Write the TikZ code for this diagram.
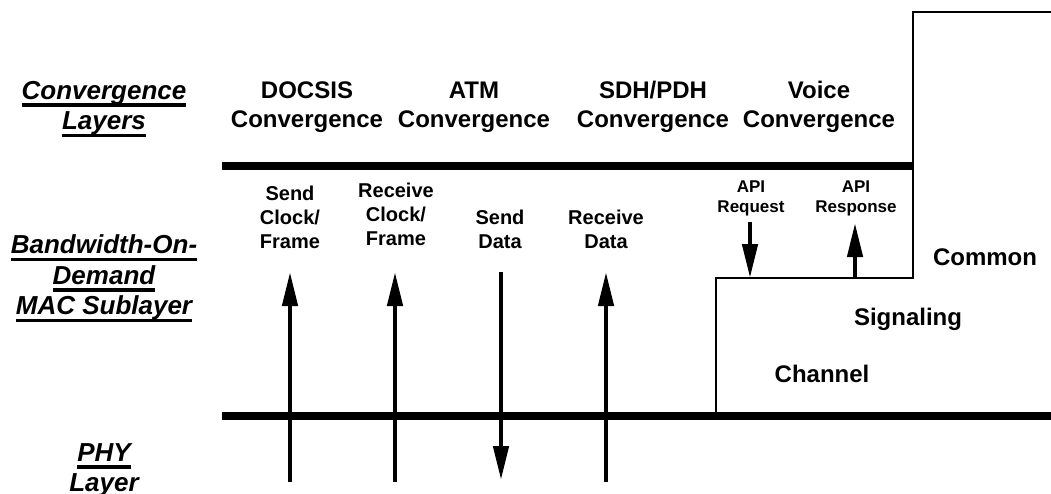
\documentclass[tikz,border=0pt]{standalone}
\usepackage{fontspec}
\setmainfont{Liberation Sans}
\usepackage{tikz}
\usetikzlibrary{arrows.meta}

\newsavebox\ulbox
\newcommand\ulline[1]{\sbox\ulbox{#1}\rlap{\rule[-7.5pt]{\wd\ulbox}{3.5pt}}\usebox\ulbox}

\begin{document}
\begin{tikzpicture}[x=1pt,y=-1pt,
	every node/.style={inner sep=0pt, align=center, anchor=base},
	layer/.style={font=\fontsize{26}{30.5}\selectfont\bfseries\itshape},
	conv/.style={font=\fontsize{24}{29}\selectfont\bfseries},
	sig/.style={font=\fontsize{20}{24}\selectfont\bfseries},
	api/.style={font=\fontsize{17}{19.5}\selectfont\bfseries},
	bar/.style={line width=8pt},
	thin/.style={line width=2pt},
	flow/.style={line width=4.5pt, -{Triangle[length=34pt,width=15pt]}}]
	\useasboundingbox (0,0) rectangle (1051,493);
	\clip (0,0) rectangle (1051,493);

	% layer names on the left (base = last line)
	\node[layer] (conv-layer) at (104,129.5) {\ulline{Convergence}\\\ulline{Layers}};
	\node[layer] (mac-layer) at (104,314.5) {\ulline{Bandwidth-On-}\\\ulline{Demand}\\\ulline{MAC Sublayer}};
	\node[layer] (phy-layer) at (104,491.5) {\ulline{PHY}\\\ulline{Layer}};

	% convergence sublayers
	\node[conv] (docsis) at (307,127) {DOCSIS\\Convergence};
	\node[conv] (atm) at (474,127) {ATM\\Convergence};
	\node[conv] (sdh) at (653,127) {SDH/PDH\\Convergence};
	\node[conv] (voice) at (819,127) {Voice\\Convergence};

	% layer boundaries
	\coordinate (top-l) at (222,166);
	\coordinate (top-r) at (913,166);
	\coordinate (bot-l) at (222,416);
	\coordinate (bot-r) at (1051,416);
	\draw[bar] (top-l) -- (top-r);
	\draw[bar] (bot-l) -- (bot-r);

	% common signaling channel outline
	\coordinate (csc-a) at (1052,12);
	\coordinate (csc-b) at (913,12);
	\coordinate (csc-c) at (913,278);
	\coordinate (csc-d) at (716,278);
	\coordinate (csc-e) at (716,416);
	\draw[thin] (csc-a) -- (csc-b) -- (csc-c) -- (csc-d) -- (csc-e);
	\node[conv] (common) at (985,265) {Common};
	\node[conv] (signaling) at (908,325) {Signaling};
	\node[conv] (channel) at (822,382) {Channel};

	% primitives between MAC and PHY
	\node[sig] (sc-lbl) at (290,248) {Send\\Clock/\\Frame};
	\node[sig] (rc-lbl) at (396,245) {Receive\\Clock/\\Frame};
	\node[sig] (sd-lbl) at (500,248) {Send\\Data};
	\node[sig] (rd-lbl) at (606,248) {Receive\\Data};
	\foreach \x/\n in {290/sc,395/rc,606/rd} {
		\coordinate (\n-lo) at (\x,482);
		\coordinate (\n-hi) at (\x,272);
		\draw[flow] (\n-lo) -- (\n-hi);
	}
	\coordinate (sd-hi) at (501,272);
	\coordinate (sd-lo) at (501,480);
	\draw[flow] (sd-hi) -- (sd-lo);

	% API primitives
	\node[api] (req-lbl) at (751,212) {API\\Request};
	\node[api] (rsp-lbl) at (856,212) {API\\Response};
	\coordinate (req-hi) at (750,222);
	\coordinate (req-lo) at (750,278);
	\coordinate (rsp-lo) at (855,278);
	\coordinate (rsp-hi) at (855,223);
	\draw[flow] (req-hi) -- (req-lo);
	\draw[flow] (rsp-lo) -- (rsp-hi);

\end{tikzpicture}
\end{document}
